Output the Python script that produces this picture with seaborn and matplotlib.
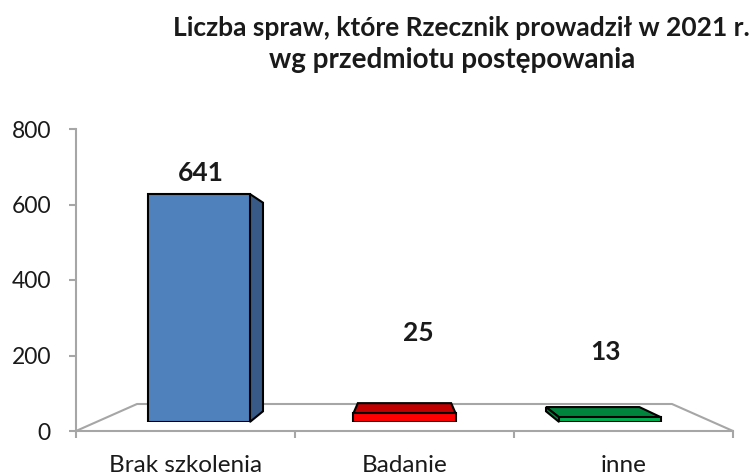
import matplotlib
matplotlib.use('Agg')
import matplotlib.pyplot as plt
import seaborn as sns
from matplotlib.patches import Polygon

categories = ['Brak szkolenia', 'Badanie', 'inne']
cases = [641, 25, 13]
front_colors = ['#4F81BD', '#FF0000', '#00B050']
dark_colors = ['#375B86', '#C00000', '#00853D']
y_ticks = [0, 200, 400, 600, 800]

W, H = 754, 475
sns.set_style('white')
plt.rcParams['font.family'] = ['Lato', 'DejaVu Sans']
GRAY = '#A6A6A6'
TXT = '#1a1a1a'

fig = plt.figure(figsize=(W / 100, H / 100), dpi=100)


def box(x0, y_top, x1, y_bottom):
    return [x0 / W, 1 - y_bottom / H, (x1 - x0) / W, (y_bottom - y_top) / H]


# main axes: the frame with ticks and the floor
ax = fig.add_axes(box(76, 129, 733, 431))
ax.set_xlim(0, 3)
ax.set_ylim(0, 800)
ax.set_yticks(y_ticks)
ax.set_xticks([0, 1, 2, 3])
ax.set_xticklabels([])
ax.set_xticks([0.5, 1.5, 2.5], labels=categories, minor=True)
ax.tick_params(axis='both', which='major', length=5, width=1.5, color=GRAY,
               left=True, bottom=True)
ax.tick_params(axis='x', which='minor', length=0, pad=17, labelsize=17.5, labelcolor=TXT)
ax.tick_params(axis='y', labelsize=16.5, labelcolor=TXT, pad=13)
for side in ['top', 'right']:
    ax.spines[side].set_visible(False)
for side in ['left', 'bottom']:
    ax.spines[side].set_color(GRAY)
    ax.spines[side].set_linewidth(1.5)

# floor going back
ax.plot([0, 61 / 657, 596 / 657, 1], [0, 27 / 302, 27 / 302, 0],
        transform=ax.transAxes, color=GRAY, lw=1.5, clip_on=False)

# bars sit on a plane slightly behind the axis, with its own scale
ax_bars = fig.add_axes(box(96, 129, 713, 422))
ax_bars.patch.set_alpha(0)
sns.barplot(x=categories, y=cases, hue=categories, palette=front_colors, saturation=1,
            width=0.496, legend=False, edgecolor='black', linewidth=1.5, ax=ax_bars, zorder=3)
ax_bars.set_xlim(-0.5, 2.5)
ax_bars.set_ylim(0, 823.7)
ax_bars.axis('off')

# fake 3D depth: points shrink towards a vanishing point
DEPTH = 0.085
VX, VY = 1.0, 354
half = 0.248


def back(x, y):
    return x + DEPTH * (VX - x), y + DEPTH * (VY - y)


for i, v in enumerate(cases):
    left, right = i - half, i + half
    faces = []
    if v < VY:
        faces.append([(left, v), (right, v), back(right, v), back(left, v)])
    if right < VX:
        faces.append([(right, 0), (right, v), back(right, v), back(right, 0)])
    if left > VX:
        faces.append([(left, 0), (left, v), back(left, v), back(left, 0)])
    for pts in faces:
        ax_bars.add_patch(Polygon(pts, closed=True, facecolor=dark_colors[i], edgecolor='black',
                                  linewidth=1.5, zorder=2, clip_on=False))

# data labels
label_px = [(201, 173), (418, 333), (605, 352)]
for v, (px, py) in zip(cases, label_px):
    fig.text(px / W, 1 - py / H, str(v), ha='center', va='center', fontsize=19,
             fontweight='bold', color=TXT)

fig.text(461 / W, 1 - 28 / H, 'Liczba spraw, które Rzecznik prowadził w 2021 r.', ha='center',
         va='center', fontsize=19, fontweight='bold', color=TXT)
fig.text(452 / W, 1 - 60 / H, 'wg przedmiotu postępowania', ha='center',
         va='center', fontsize=20, fontweight='bold', color=TXT)

fig.savefig('out.png', dpi=100)
